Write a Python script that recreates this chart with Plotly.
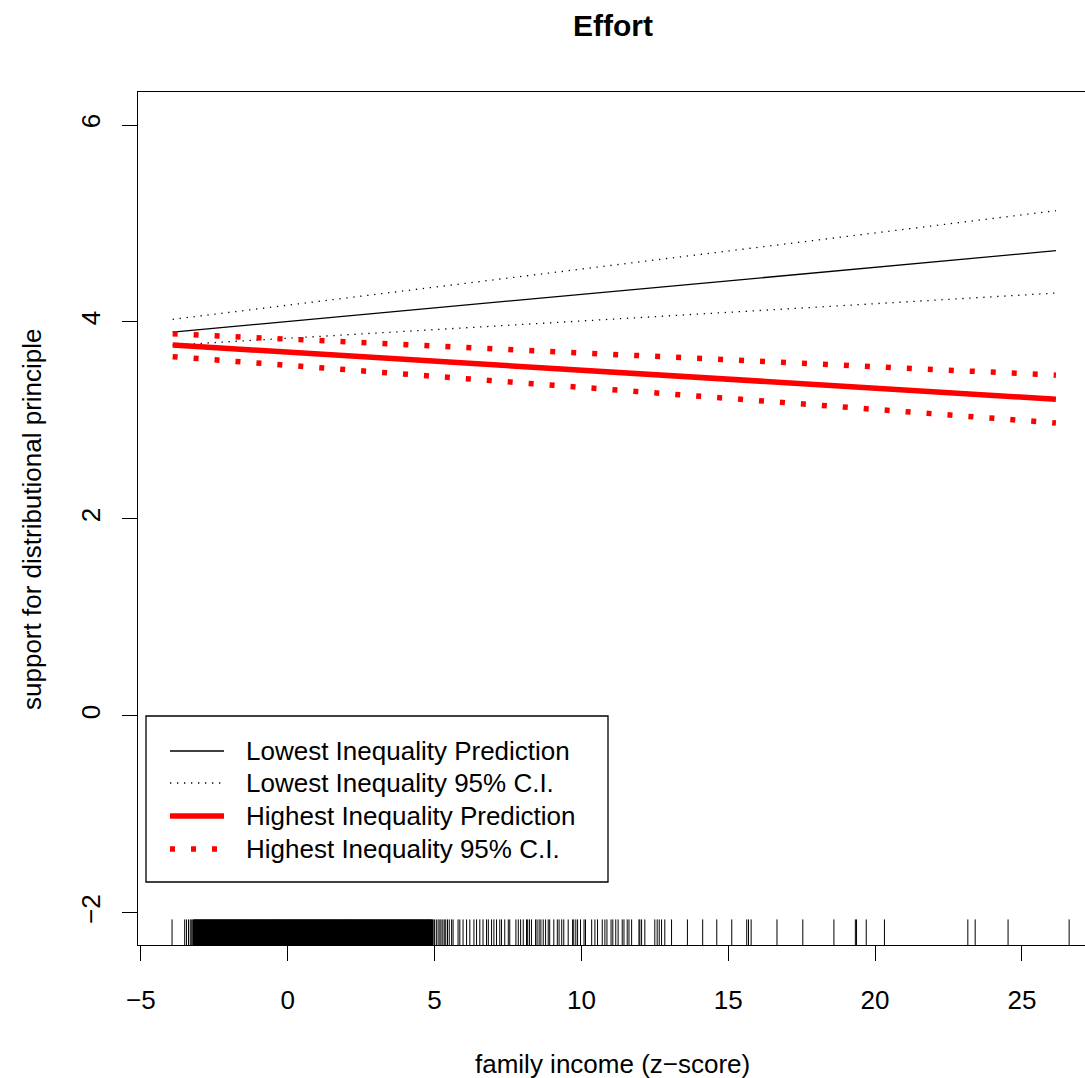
import plotly.graph_objects as go

# ---- data ----
x_ends = [-3.92, 26.16]
low_pred = [3.898, 4.724]
low_ci_upper = [4.027, 5.13]
low_ci_lower = [3.766, 4.294]
high_pred = [3.766, 3.215]
high_ci_upper = [3.881, 3.46]
high_ci_lower = [3.648, 2.975]

# rug: observed family income values (dense part, then sparse tail)
rug_dense = [
    -3.20, -3.15, -3.10, -3.05, -3.00, -2.95, -2.90, -2.85, -2.80, -2.75,
    -2.70, -2.65, -2.60, -2.55, -2.50, -2.45, -2.40, -2.35, -2.30, -2.25,
    -2.20, -2.15, -2.10, -2.05, -2.00, -1.95, -1.90, -1.85, -1.80, -1.75,
    -1.70, -1.65, -1.60, -1.55, -1.50, -1.45, -1.40, -1.35, -1.30, -1.25,
    -1.20, -1.15, -1.10, -1.05, -1.00, -0.95, -0.90, -0.85, -0.80, -0.75,
    -0.70, -0.65, -0.60, -0.55, -0.50, -0.45, -0.40, -0.35, -0.30, -0.25,
    -0.20, -0.15, -0.10, -0.05, 0.00, 0.05, 0.10, 0.15, 0.20, 0.25,
    0.30, 0.35, 0.40, 0.45, 0.50, 0.55, 0.60, 0.65, 0.70, 0.75,
    0.80, 0.85, 0.90, 0.95, 1.00, 1.05, 1.10, 1.15, 1.20, 1.25,
    1.30, 1.35, 1.40, 1.45, 1.50, 1.55, 1.60, 1.65, 1.70, 1.75,
    1.80, 1.85, 1.90, 1.95, 2.00, 2.05, 2.10, 2.15, 2.20, 2.25,
    2.30, 2.35, 2.40, 2.45, 2.50, 2.55, 2.60, 2.65, 2.70, 2.75,
    2.80, 2.85, 2.90, 2.95, 3.00, 3.05, 3.10, 3.15, 3.20, 3.25,
    3.30, 3.35, 3.40, 3.45, 3.50, 3.55, 3.60, 3.65, 3.70, 3.75,
    3.80, 3.85, 3.90, 3.95, 4.00, 4.05, 4.10, 4.15, 4.20, 4.25,
    4.30, 4.35, 4.40, 4.45, 4.50, 4.55, 4.60, 4.65, 4.70, 4.75,
    4.80, 4.85, 4.90,
]
rug_sparse = [
    -3.94, -3.51, -3.45, -3.38, -3.32, -3.27,
    4.95, 5.00, 5.06, 5.12, 5.18, 5.22, 5.28, 5.33, 5.38, 5.44, 5.50,
    5.58, 5.63, 5.80, 5.86, 5.97, 6.09, 6.20, 6.34, 6.43, 6.54, 6.65,
    6.77, 6.83, 6.94, 7.02, 7.11, 7.22, 7.28, 7.39, 7.51, 7.56, 7.77,
    7.85, 7.93, 8.02, 8.13, 8.17, 8.23, 8.30, 8.44, 8.49, 8.56, 8.62,
    8.70, 8.78, 8.87, 8.92, 9.06, 9.18, 9.24, 9.33, 9.40, 9.55, 9.70,
    9.74, 9.81, 9.87, 9.97, 10.09, 10.14, 10.35, 10.46, 10.55, 10.71,
    10.80, 10.87, 11.01, 11.07, 11.17, 11.25, 11.39, 11.45, 11.56, 11.62,
    11.71, 11.96, 11.99, 12.05, 12.16, 12.50, 12.58, 12.65, 12.73, 12.84,
    13.07, 13.61, 14.13, 14.61, 15.12, 15.63, 15.69, 15.78, 16.66, 17.54,
    18.60, 19.33, 19.37, 19.70, 20.32, 23.16, 23.41, 24.53, 26.61,
]

x_tickvals = [-5, 0, 5, 10, 15, 20, 25]
y_tickvals = [-2, 0, 2, 4, 6]

legend_labels = [
    "Lowest Inequality Prediction",
    "Lowest Inequality 95% C.I.",
    "Highest Inequality Prediction",
    "Highest Inequality 95% C.I.",
]

# ---- layout geometry ----
W, H = 1085, 1078
L, R, T, B = 138, 0, 92, 133
XR = [-5.10, 27.15]
YR = [-2.325, 6.335]
FONT = "Liberation Sans, Arial, Helvetica, sans-serif"
FS = 26

BLACK_DOT = "1.3px,5.7px"
RED_DOT = "5px,16px"

fig = go.Figure()

styles = [
    (low_pred, dict(color="black", width=1.3)),
    (low_ci_upper, dict(color="black", width=1.3, dash=BLACK_DOT)),
    (low_ci_lower, dict(color="black", width=1.3, dash=BLACK_DOT)),
    (high_ci_upper, dict(color="red", width=5.5, dash=RED_DOT)),
    (high_ci_lower, dict(color="red", width=5.5, dash=RED_DOT)),
    (high_pred, dict(color="red", width=5.5)),
]
for ys, ln in styles:
    fig.add_trace(go.Scatter(x=x_ends, y=ys, mode="lines", line=ln,
                             showlegend=False, hoverinfo="skip"))

# rug
rug_h = 0.03 * (YR[1] - YR[0])
def rug_xy(vals):
    xs, ys = [], []
    for v in vals:
        xs += [v, v, None]
        ys += [YR[0], YR[0] + rug_h, None]
    return xs, ys

xs, ys = rug_xy(rug_dense)
fig.add_trace(go.Scatter(x=xs, y=ys, mode="lines", line=dict(color="black", width=3),
                         showlegend=False, hoverinfo="skip", cliponaxis=False))
xs, ys = rug_xy(rug_sparse)
fig.add_trace(go.Scatter(x=xs, y=ys, mode="lines", line=dict(color="black", width=1),
                         showlegend=False, hoverinfo="skip", cliponaxis=False))

# ---- manual legend (paper coords from pixels) ----
pw = W - L - R
ph = H - T - B
def px2x(px):
    return (px - L) / pw
def py2y(py):
    return 1 - (py - T) / ph

shapes = []
shapes.append(dict(type="rect", xref="paper", yref="paper",
                   x0=px2x(146), x1=px2x(608), y0=py2y(882), y1=py2y(716),
                   line=dict(color="black", width=1.3), fillcolor="white", layer="above"))
row_y = [751, 783, 816, 849]
leg_styles = [
    dict(color="black", width=1.3),
    dict(color="black", width=1.3, dash=BLACK_DOT),
    dict(color="red", width=5.5),
    dict(color="red", width=5.5, dash=RED_DOT),
]
annotations = []
for yy, st, lab in zip(row_y, leg_styles, legend_labels):
    shapes.append(dict(type="line", xref="paper", yref="paper",
                       x0=px2x(170), x1=px2x(224), y0=py2y(yy), y1=py2y(yy),
                       line=st, layer="above"))
    annotations.append(dict(text=lab, xref="paper", yref="paper",
                            x=px2x(244), y=py2y(yy), xanchor="left", yanchor="middle",
                            showarrow=False, font=dict(family=FONT, size=FS, color="black")))

# titles
annotations.append(dict(text="<b>Effort</b>", xref="paper", yref="paper",
                        x=px2x(613), y=py2y(25), xanchor="center", yanchor="middle",
                        showarrow=False, font=dict(family=FONT, size=30, color="black")))
annotations.append(dict(text="family income (z\u2212score)", xref="paper", yref="paper",
                        x=px2x(612), y=py2y(1064), xanchor="center", yanchor="middle",
                        showarrow=False, font=dict(family=FONT, size=FS, color="black")))
annotations.append(dict(text="support for distributional principle", xref="paper", yref="paper",
                        x=px2x(32), y=py2y(519), xanchor="center", yanchor="middle",
                        textangle=-90,
                        showarrow=False, font=dict(family=FONT, size=FS, color="black")))

fig.update_layout(
    width=W, height=H,
    margin=dict(l=L, r=R, t=T, b=B, pad=0),
    paper_bgcolor="white", plot_bgcolor="white",
    showlegend=False,
    shapes=shapes, annotations=annotations,
    font=dict(family=FONT, size=FS, color="black"),
)
fig.update_xaxes(range=XR, showgrid=False, zeroline=False,
                 showline=True, linecolor="black", linewidth=1.3, mirror=True,
                 tickmode="array", tickvals=x_tickvals,
                 ticks="outside", ticklen=15, tickwidth=1.3, tickcolor="black",
                 ticklabelstandoff=17,
                 tickfont=dict(family=FONT, size=FS, color="black"))
fig.update_yaxes(range=YR, showgrid=False, zeroline=False,
                 showline=True, linecolor="black", linewidth=1.3, mirror=False,
                 tickmode="array", tickvals=y_tickvals,
                 ticks="outside", ticklen=15, tickwidth=1.3, tickcolor="black",
                 tickangle=-90, ticklabelstandoff=11,
                 tickfont=dict(family=FONT, size=FS, color="black"))

fig.write_html("out.html", config={"displayModeBar": False},
               post_script="document.body.style.margin='0';document.body.style.overflow='hidden';")
